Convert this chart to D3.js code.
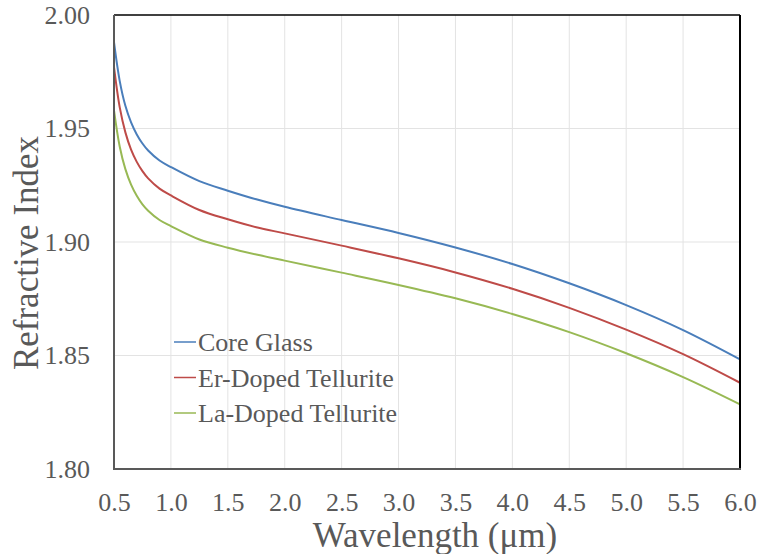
<!DOCTYPE html>
<html>
<head>
<meta charset="utf-8">
<script src="https://cdn.jsdelivr.net/npm/d3@7"></script>
<style>
  body { margin: 0; background: #fff; }
  svg text { font-family: "Times New Roman", "Liberation Serif", Tinos, "DejaVu Serif", serif; }
</style>
</head>
<body>
<div id="chart-area"></div>
<script>
const WIDTH = 759;
const HEIGHT = 554;
const FONT = "'Times New Roman', 'Liberation Serif', Tinos, 'DejaVu Serif', serif";

// wavelength in um
const wavelengths = [0.5, 0.55, 0.6, 0.65, 0.7, 0.75, 0.8, 0.9, 1.0, 1.25, 1.5, 1.75, 2.0, 2.5, 3.0, 3.5, 4.0, 4.5, 5.0, 5.5, 6.0];
const coreGlass = [1.988, 1.971, 1.960, 1.9527, 1.9474, 1.9434, 1.9403, 1.9359, 1.933, 1.9268, 1.9226, 1.9188, 1.9155, 1.9097, 1.9040, 1.8976, 1.8903, 1.8818, 1.8722, 1.8612, 1.8483];
const erDoped = [1.977, 1.9594, 1.9483, 1.9407, 1.9353, 1.9312, 1.928, 1.9235, 1.9205, 1.9141, 1.910, 1.9065, 1.9038, 1.8984, 1.8928, 1.8866, 1.8794, 1.8710, 1.8614, 1.8506, 1.8380];
const laDoped = [1.958, 1.9421, 1.9321, 1.9253, 1.9204, 1.9166, 1.9138, 1.9097, 1.907, 1.9011, 1.8975, 1.8945, 1.8918, 1.8865, 1.8811, 1.8752, 1.8683, 1.8603, 1.8510, 1.8405, 1.8285];

const seriesNames = ["Core Glass", "Er-Doped Tellurite", "La-Doped Tellurite"];
const seriesColors = ["#4a7ebb", "#be4b48", "#98b954"];
const xTicks = [0.5, 1.0, 1.5, 2.0, 2.5, 3.0, 3.5, 4.0, 4.5, 5.0, 5.5, 6.0];
const yTicks = [1.80, 1.85, 1.90, 1.95, 2.00];

const margin = { top: 15, right: 19, bottom: 85, left: 114 };
const width = WIDTH - margin.left - margin.right;
const height = HEIGHT - margin.top - margin.bottom;

const svg = d3.select("#chart-area").append("svg")
    .attr("width", WIDTH)
    .attr("height", HEIGHT)
    .attr("font-family", FONT);

const g = svg.append("g")
    .attr("transform", "translate(" + margin.left + "," + margin.top + ")");

const x = d3.scaleLinear().domain([0.5, 6.0]).range([0, width]);
const y = d3.scaleLinear().domain([1.80, 2.00]).range([height, 0]);

// gridlines
g.append("g")
    .selectAll("line")
    .data(xTicks.slice(1, -1))
    .enter().append("line")
    .attr("x1", d => x(d)).attr("x2", d => x(d))
    .attr("y1", 0).attr("y2", height)
    .attr("stroke", "#e3e3e3")
    .attr("stroke-width", 1);
g.append("g")
    .selectAll("line")
    .data(yTicks.slice(1, -1))
    .enter().append("line")
    .attr("x1", 0).attr("x2", width)
    .attr("y1", d => y(d)).attr("y2", d => y(d))
    .attr("stroke", "#e3e3e3")
    .attr("stroke-width", 1);

// tick labels
const xAxis = g.append("g")
    .attr("transform", "translate(0," + height + ")")
    .call(d3.axisBottom(x).tickValues(xTicks).tickFormat(d3.format(".1f")).tickSize(0).tickPadding(24));
xAxis.attr("font-family", FONT).attr("font-size", 26);
xAxis.select(".domain").remove();
xAxis.selectAll("text").attr("fill", "#595959");

const yAxis = g.append("g")
    .call(d3.axisLeft(y).tickValues(yTicks).tickFormat(d3.format(".2f")).tickSize(0).tickPadding(24));
yAxis.attr("font-family", FONT).attr("font-size", 26);
yAxis.select(".domain").remove();
yAxis.selectAll("text").attr("fill", "#595959");

// lines
const allSeries = [coreGlass, erDoped, laDoped];
const line = d3.line()
    .x((d, i) => x(wavelengths[i]))
    .y(d => y(d))
    .curve(d3.curveCatmullRom.alpha(0.5));

allSeries.forEach((vals, k) => {
    g.append("path")
        .datum(vals)
        .attr("fill", "none")
        .attr("stroke", seriesColors[k])
        .attr("stroke-width", 2)
        .attr("d", line);
});

// plot frame
g.append("line").attr("x1", 0).attr("x2", width).attr("y1", 0).attr("y2", 0)
    .attr("stroke", "#000").attr("stroke-width", 1.5);
g.append("line").attr("x1", width).attr("x2", width).attr("y1", 0).attr("y2", height)
    .attr("stroke", "#000").attr("stroke-width", 2);
g.append("line").attr("x1", 0).attr("x2", 0).attr("y1", 0).attr("y2", height)
    .attr("stroke", "#595959").attr("stroke-width", 2);
g.append("line").attr("x1", -1).attr("x2", width + 1).attr("y1", height).attr("y2", height)
    .attr("stroke", "#595959").attr("stroke-width", 2);

// legend
const legend = g.append("g").attr("transform", "translate(60,327)");
seriesNames.forEach((name, k) => {
    const row = legend.append("g").attr("transform", "translate(0," + (k * 35.5) + ")");
    row.append("line")
        .attr("x1", 0).attr("x2", 22)
        .attr("y1", 0).attr("y2", 0)
        .attr("stroke", seriesColors[k])
        .attr("stroke-width", 1.5);
    row.append("text")
        .attr("x", 24)
        .attr("y", 0)
        .attr("dy", "0.35em")
        .attr("fill", "#595959")
        .attr("font-size", 26)
        .text(name);
});

// axis titles
svg.append("text")
    .attr("x", 435)
    .attr("y", 547)
    .attr("text-anchor", "middle")
    .attr("fill", "#595959")
    .attr("font-size", 35)
    .text("Wavelength (μm)");

svg.append("text")
    .attr("transform", "translate(38,253) rotate(-90)")
    .attr("text-anchor", "middle")
    .attr("fill", "#595959")
    .attr("font-size", 35)
    .text("Refractive Index");
</script>
</body>
</html>
